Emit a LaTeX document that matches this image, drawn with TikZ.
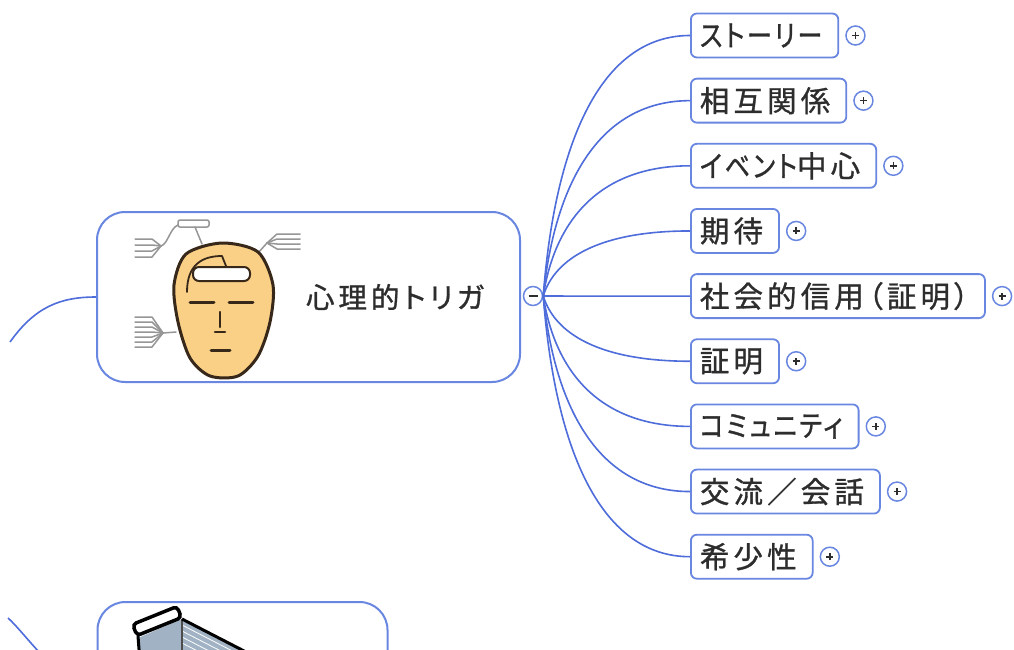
\documentclass[tikz,border=0pt]{standalone}
\usepackage{fontspec}
\newfontfamily\jpfont[RawFeature=+palt,LetterSpace=14,FakeBold=1]{Noto Sans CJK JP}
\newfontfamily\kanafont[RawFeature=+palt,LetterSpace=9,FakeBold=1,FakeStretch=0.85]{Noto Sans CJK JP}
\newcommand\kana[1]{{\kanafont #1}}
\usetikzlibrary{positioning,calc}

\definecolor{mmline}{RGB}{78,108,218}
\definecolor{mmbox}{RGB}{105,135,225}
\definecolor{mmtext}{RGB}{45,45,45}
\definecolor{skin}{RGB}{250,208,135}
\definecolor{skinline}{RGB}{55,40,25}
\definecolor{sketch}{RGB}{150,150,150}
\definecolor{basket}{RGB}{160,178,196}

\tikzset{
  mainbox/.style={draw=mmbox, line width=2pt, rounded corners=28pt, fill=white},
  topic/.style={draw=mmbox, line width=1.8pt, rounded corners=6pt, fill=white, anchor=west,
    inner xsep=9pt, minimum height=44pt, text=mmtext, font=\jpfont\fontsize{29.5}{31}\selectfont},
  expander/.style={circle, draw=mmbox, line width=1.5pt, fill=white, minimum size=19pt, inner sep=0pt},
  minusmark/.style={expander, path picture={
    \draw[mmtext, line width=1.6pt] ([xshift=-4.5pt]path picture bounding box.center) -- ([xshift=4.5pt]path picture bounding box.center);}},
  plusmark/.style={expander, path picture={
    \draw[mmtext, line width=1.6pt] ([xshift=-3.5pt]path picture bounding box.center) -- ([xshift=3.5pt]path picture bounding box.center)
      ([yshift=-3.5pt]path picture bounding box.center) -- ([yshift=3.5pt]path picture bounding box.center);}},
  branch/.style={draw=mmline, line width=1.6pt},
}

\begin{document}
\begin{tikzpicture}[x=1pt, y=-1pt]
  \fill[white] (0,0) rectangle (1014,650);
  \useasboundingbox (0,0) rectangle (1014,650);
  \clip (0,0) rectangle (1014,650);

  % incoming branches from the parent topic
  \coordinate (inA) at (10,342);
  \coordinate (inB) at (8,618);
  \node[mainbox, minimum width=423pt, minimum height=170pt] (trig) at (308.5,297) {};
  \node[mainbox, minimum width=290pt, minimum height=170pt] (cart) at (242.5,687) {};
  \draw[branch] (inA) .. controls (35,307) and (60,297) .. (trig.west);
  \draw[branch] (inB) .. controls (28,636) and (60,687) .. (cart.west);

  \node[text=mmtext, font=\jpfont\fontsize{28.5}{31}\selectfont] (trigtext) at (395,297) {心理的トリガ};

  % head icon
  \begin{scope}[line cap=round, line join=round]
    \draw[sketch, line width=1.5pt, rounded corners=2pt] (178,220) rectangle (209,227);
    \draw[sketch, line width=1.5pt] (195,227) -- (202,244);
    \draw[sketch, line width=1.5pt] (178,225) .. controls (170,228) and (168,244) .. (161,246);
    \foreach \yy in {239,245,251,257}
      \draw[sketch, line width=1.5pt] (135,\yy) -- (152,\yy) -- (161,246);
    \draw[sketch, line width=1.5pt] (258,253) -- (267,243);
    \foreach \yy in {234,239,244,249}
      \draw[sketch, line width=1.5pt] (300,\yy) -- (277,\yy) -- (267,243);
    \draw[sketch, line width=1.5pt] (163,333) -- (176,332);
    \foreach \yy in {317,322,327,332,337,342,347}
      \draw[sketch, line width=1.5pt] (135,\yy) -- (152,\yy) -- (163,333);
    \draw[skinline, fill=skin, line width=3pt] plot[smooth cycle] coordinates
      {(222,243) (258,252) (273,285) (270,322) (258,356) (238,376) (210,376) (190,358) (178,322) (174,285) (186,254)};
    \draw[skinline, line width=1.8pt] (187,292) .. controls (187,264) and (203,256) .. (222,256) -- (226,266);
    \draw[skinline, fill=white, line width=2pt, rounded corners=6pt] (193,267) rectangle (250,281);
    \draw[skinline, line width=3pt] (190,302) -- (214,302) (229,302) -- (253,302);
    \draw[skinline, line width=2.5pt] (220,312) -- (220,327) (215,332) -- (225,332);
    \draw[skinline, line width=3pt] (211,350) -- (230,350);
  \end{scope}

  % shopping cart icon
  \fill[basket] (138,638) -- (182,619) -- (246,652) -- (140,662) -- cycle;
  \foreach \dd in {6,12,18,24}
    \draw[white, line width=0.8pt] (182,619+\dd) -- (246,652+\dd);
  \draw[black!70, line width=1.5pt] (182,619) -- (182,662);
  \draw[black, line width=3pt, line join=round] (138,636) -- (140,662) (182,619) -- (246,652);
  \draw[black, line width=3.5pt, rounded corners=4pt, fill=white, rotate around={22:(157,621)}]
    (133,615) rectangle (181,627);

  \node[minusmark] (coll) at (533,296) {};

  \foreach \txt [count=\i] in {\kana{ストーリー},相互関係,\kana{イベント}中心,期待,社会的信用（証明）,証明,\kana{コミュニティ},交流／会話,希少性} {
    \node[topic] (t\i) at (690,{35.5+65.15*(\i-1)}) {\txt\kern7pt};
    \node[plusmark, right=6pt of t\i] (p\i) {};
    \draw[branch] (coll.east) .. controls ($(coll.east)!0.6!(coll.east |- t\i.west)+(12,0)$)
      and ($(t\i.west)+(-88,0)$) .. (t\i.west);
  }
\end{tikzpicture}
\end{document}
